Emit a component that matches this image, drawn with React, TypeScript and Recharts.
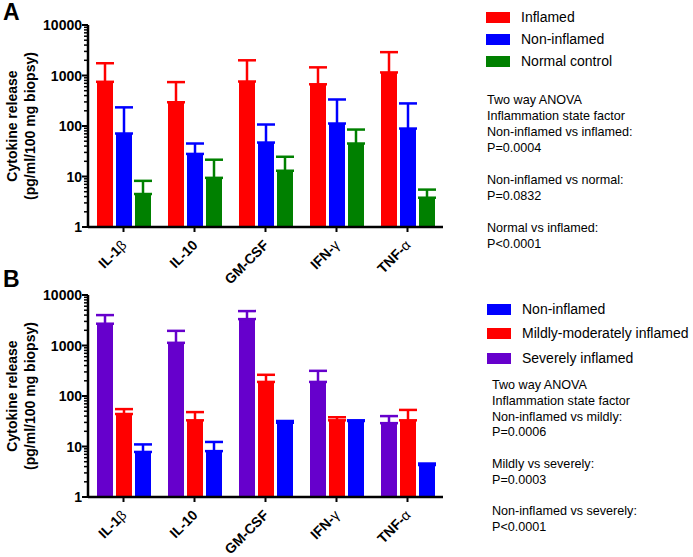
import React from "react";
import { BarChart, Bar, XAxis, YAxis, ErrorBar, Label } from "recharts";

// categories shared by both panels
const categories = ["IL-1β", "IL-10", "GM-CSF", "IFN-γ", "TNF-α"];

// panel A: means and upper ends of the error bars
const inflamedA = [750, 295, 760, 670, 1150];
const inflamedTopA = [1750, 740, 2000, 1450, 2900];
const nonInflamedA = [71, 28, 47, 112, 89];
const nonInflamedTopA = [234, 45, 107, 335, 280];
const normalA = [4.5, 9.4, 13, 45, 3.8];
const normalTopA = [8.2, 21.5, 24.6, 85, 5.5];

// panel B
const severeB = [2700, 1130, 3330, 190, 29];
const severeTopB = [4000, 1950, 4800, 315, 40];
const mildB = [44, 33, 190, 33, 33];
const mildTopB = [55, 48, 263, 38, 53];
const nonB = [7.8, 8.1, 29.5, 32, 4.3];
const nonTopB = [11, 12.3, 32, 33, 4.6];

const majorTicks = [1, 10, 100, 1000, 10000];
const minorSteps = [2, 3, 4, 5, 6, 7, 8, 9];
const allTicks = [
  ...majorTicks,
  ...majorTicks.slice(0, 4).flatMap((m) => minorSteps.map((s) => m * s)),
].sort((a, b) => a - b);

const FONT = "'Liberation Sans', Arial, sans-serif";
const RED = "#ff0000";
const BLUE = "#0000ff";
const GREEN = "#008000";
const PURPLE = "#6600cc";

const dataA = categories.map((c, i) => ({
  name: c,
  inflamed: inflamedA[i],
  inflamedErr: [0, inflamedTopA[i] - inflamedA[i]],
  nonInflamed: nonInflamedA[i],
  nonInflamedErr: [0, nonInflamedTopA[i] - nonInflamedA[i]],
  normal: normalA[i],
  normalErr: [0, normalTopA[i] - normalA[i]],
}));

const dataB = categories.map((c, i) => ({
  name: c,
  severe: severeB[i],
  severeErr: [0, severeTopB[i] - severeB[i]],
  mild: mildB[i],
  mildErr: [0, mildTopB[i] - mildB[i]],
  non: nonB[i],
  nonErr: [0, nonTopB[i] - nonB[i]],
}));

const YTick = (props: any) => {
  const { x, y, payload } = props;
  const v = payload.value;
  const major = majorTicks.includes(v);
  return (
    <g>
      <line x1={x - (major ? 6 : 4)} x2={x} y1={y} y2={y} stroke="#000" strokeWidth={major ? 2 : 1.5} />
      {major && (
        <text x={x - 6} y={y} dy={5} textAnchor="end" fontFamily={FONT} fontWeight="bold" fontSize={14} fill="#000">
          {v}
        </text>
      )}
    </g>
  );
};

// slanted category labels, greek letter in normal weight like the original
const XTick = (props: any) => {
  const { x, y, payload } = props;
  const label: string = payload.value;
  const greek = label.slice(-1);
  const isGreek = /[α-ω]/.test(greek);
  return (
    <g transform={`translate(${x + 4} ${y + 12}) rotate(-45)`}>
      <text x={0} y={0} textAnchor="end" fontFamily={FONT} fontWeight="bold" fontSize={14} fill="#000">
        {isGreek ? label.slice(0, -1) : label}
        {isGreek && <tspan fontWeight="normal">{greek}</tspan>}
      </text>
    </g>
  );
};

const YLabel = (props: any) => {
  const vb = props.viewBox;
  const cy = vb.y + vb.height / 2;
  return (
    <g fontFamily={FONT} fontWeight="bold" fontSize={14} fill="#000">
      <text x={17} y={cy} textAnchor="middle" transform={`rotate(-90, 17, ${cy})`}>
        Cytokine release
      </text>
      <text x={35} y={cy} textAnchor="middle" transform={`rotate(-90, 35, ${cy})`}>
        (pg/ml/100 mg biopsy)
      </text>
    </g>
  );
};

function Panel({ data, series }: { data: any[]; series: { key: string; color: string }[] }) {
  return (
    <BarChart
      width={450}
      height={300}
      data={data}
      margin={{ top: 25, right: 7, bottom: 0, left: 0 }}
      barSize={16}
      barGap={3}
    >
      <XAxis
        dataKey="name"
        height={73}
        interval={0}
        axisLine={{ stroke: "#000", strokeWidth: 2.5 }}
        tickLine={{ stroke: "#000", strokeWidth: 2 }}
        tickSize={5}
        tickMargin={2}
        tick={(p: any) => <XTick {...p} />}
      />
      <YAxis
        scale="log"
        domain={[1, 10000]}
        ticks={allTicks}
        interval={0}
        width={88}
        allowDataOverflow
        axisLine={{ stroke: "#000", strokeWidth: 2.5 }}
        tickLine={false}
        tickSize={0}
        tickMargin={0}
        tick={<YTick />}
      >
        <Label content={<YLabel />} />
      </YAxis>
      {series.map((s) => (
        <Bar key={s.key} dataKey={s.key} fill={s.color} isAnimationActive={false}>
          <ErrorBar dataKey={s.key + "Err"} direction="y" width={9} stroke={s.color} strokeWidth={2.5} />
        </Bar>
      ))}
    </BarChart>
  );
}

const legendRow = (top: number, left: number, color: string, text: string) => (
  <div key={text} style={{ position: "absolute", top: top - 10, left, height: 20, display: "flex", alignItems: "center" }}>
    <div style={{ width: 24, height: 11, background: color }} />
    <div style={{ marginLeft: 11, fontSize: 14, fontFamily: FONT, lineHeight: "20px", whiteSpace: "nowrap" }}>{text}</div>
  </div>
);

const annotationA = [
  "Two way ANOVA",
  "Inflammation state factor",
  "Non-inflamed vs inflamed:",
  "P=0.0004",
  "",
  "Non-inflamed vs normal:",
  "P=0.0832",
  "",
  "Normal vs inflamed:",
  "P<0.0001",
];

const annotationB = [
  "Two way ANOVA",
  "Inflammation state factor",
  "Non-inflamed vs mildly:",
  "P=0.0006",
  "",
  "Mildly vs severely:",
  "P=0.0003",
  "",
  "Non-inflamed vs severely:",
  "P<0.0001",
];

const annotation = (lines: string[], top: number, left: number, lh: number) => (
  <div style={{ position: "absolute", top, left, fontFamily: FONT, fontSize: 12.6, lineHeight: `${lh}px`, whiteSpace: "nowrap" }}>
    {lines.map((l, i) => (
      <div key={i} style={{ height: lh }}>{l}</div>
    ))}
  </div>
);

export default function App() {
  return (
    <div style={{ position: "fixed", left: 0, top: 0, width: 693, height: 557, background: "#fff", overflow: "hidden" }}>
      <div style={{ position: "absolute", left: 0, top: 0 }}>
        <Panel
          data={dataA}
          series={[
            { key: "inflamed", color: RED },
            { key: "nonInflamed", color: BLUE },
            { key: "normal", color: GREEN },
          ]}
        />
      </div>
      <div style={{ position: "absolute", left: 0, top: 270 }}>
        <Panel
          data={dataB}
          series={[
            { key: "severe", color: PURPLE },
            { key: "mild", color: RED },
            { key: "non", color: BLUE },
          ]}
        />
      </div>
      <div style={{ position: "absolute", left: 3, top: 1, lineHeight: "22px", fontFamily: FONT, fontWeight: "bold", fontSize: 23 }}>A</div>
      <div style={{ position: "absolute", left: 3, top: 268, lineHeight: "22px", fontFamily: FONT, fontWeight: "bold", fontSize: 23 }}>B</div>

      {legendRow(17, 486, RED, "Inflamed")}
      {legendRow(39, 486, BLUE, "Non-inflamed")}
      {legendRow(61, 486, GREEN, "Normal control")}
      {annotation(annotationA, 92, 487, 16)}

      {legendRow(309, 487, BLUE, "Non-inflamed")}
      {legendRow(333, 487, RED, "Mildly-moderately inflamed")}
      {legendRow(358, 487, PURPLE, "Severely inflamed")}
      {annotation(annotationB, 378, 492, 15.8)}
    </div>
  );
}
